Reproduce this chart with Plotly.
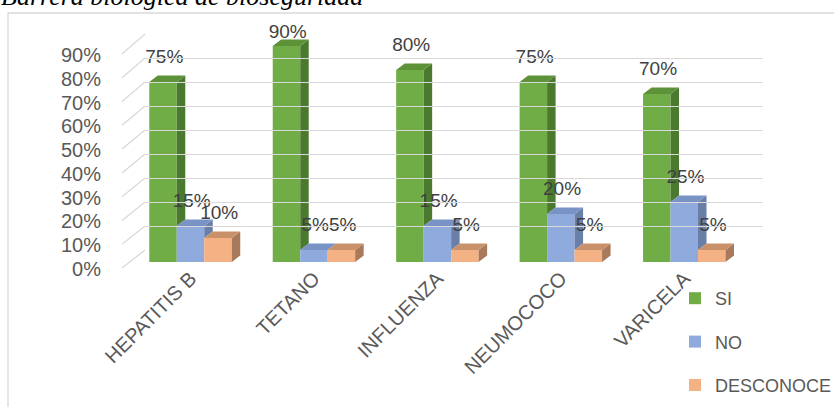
import plotly.graph_objects as go

# ---------------- data ----------------
categories = ["HEPATITIS B", "TETANO", "INFLUENZA", "NEUMOCOCO", "VARICELA"]
series_names = ["SI", "NO", "DESCONOCE"]
si = [0.75, 0.90, 0.80, 0.75, 0.70]
no = [0.15, 0.05, 0.15, 0.20, 0.25]
desconoce = [0.10, 0.05, 0.05, 0.05, 0.05]
y_ticks = [0.0, 0.1, 0.2, 0.3, 0.4, 0.5, 0.6, 0.7, 0.8, 0.9]
y_tick_labels = ["0%", "10%", "20%", "30%", "40%", "50%", "60%", "70%", "80%", "90%"]
title_text = "Barrera biológica de bioseguridad"

# ---------------- styling ----------------
W, H = 834, 407
FONT = "Liberation Sans"
front_colors = ["#70AD47", "#8FAADC", "#F4B183"]
side_colors = ["#4B7A2E", "#6A7FA8", "#A8795A"]
top_colors = ["#5E9239", "#7A93C6", "#C9916A"]
GRID = "#D9D9D9"


def fx(p):
    return p / W


def fy(p):
    return (H - p) / H


values = [si, no, desconoce]
n_cat = len(categories)
n_ser = len(values)
bargap = 0.332
bw = (1 - bargap) / n_ser
# depth of the pseudo-3D faces, in axis units
x_unit_px = (746 - 128.8) / n_cat
y_unit_px = 240.0
dx = 8.5 / x_unit_px
dy = 6.5 / y_unit_px

fig = go.Figure()

# front faces as real bars
xs = list(range(n_cat))
for j, name in enumerate(series_names):
    fig.add_trace(go.Bar(
        x=xs, y=values[j], name=name, legendgroup=name,
        marker=dict(color=front_colors[j], line=dict(width=0)),
        hoverinfo="skip",
    ))

# side and top faces derived from the data
for j in range(n_ser):
    sx, sy, tx, ty = [], [], [], []
    for i in range(n_cat):
        v = values[j][i]
        c = i + (j - (n_ser - 1) / 2) * bw
        left, right = c - bw / 2, c + bw / 2
        if j < n_ser - 1:
            base = values[j + 1][i]
        else:
            base = 0.0
        if base < v:
            sx += [right, right + dx, right + dx, right, right, None]
            sy += [base, base + dy, v + dy, v, base, None]
        tx += [left, right, right + dx, left + dx, left, None]
        ty += [v, v, v + dy, v + dy, v, None]
    fig.add_trace(go.Scatter(x=sx, y=sy, mode="lines", fill="toself",
                             fillcolor=side_colors[j], line=dict(width=0),
                             showlegend=False, hoverinfo="skip"))
    fig.add_trace(go.Scatter(x=tx, y=ty, mode="lines", fill="toself",
                             fillcolor=top_colors[j], line=dict(width=0),
                             showlegend=False, hoverinfo="skip"))

# data labels
for j in range(n_ser):
    lx = [i + (j - (n_ser - 1) / 2) * bw + 0.01 for i in range(n_cat)]
    ly = [min(v + 0.1, 0.952) for v in values[j]]
    fig.add_trace(go.Scatter(
        x=lx, y=ly, mode="text",
        text=["{:.0f}%".format(v * 100) for v in values[j]],
        textfont=dict(family=FONT, size=19, color="#404040"),
        textposition="middle center", cliponaxis=False,
        showlegend=False, hoverinfo="skip"))

# helper traces for back wall and label axis
fig.add_trace(go.Scatter(x=[0], y=[0], xaxis="x2", yaxis="y2", mode="markers",
                         marker=dict(opacity=0), showlegend=False, hoverinfo="skip"))
fig.add_trace(go.Scatter(x=[0], y=[0], xaxis="x2", yaxis="y3", mode="markers",
                         marker=dict(opacity=0), showlegend=False, hoverinfo="skip"))

# left wall diagonals
shapes = []
for v in y_ticks:
    shapes.append(dict(type="line", xref="paper", yref="paper",
                       x0=fx(122), y0=fy(268 - v * 237.8),
                       x1=fx(145), y1=fy(250 - v * 240),
                       line=dict(color=GRID, width=1.3), layer="below"))
# chart border
shapes.append(dict(type="rect", xref="paper", yref="paper",
                   x0=fx(8), x1=1.02, y0=-0.02, y1=fy(13),
                   line=dict(color=GRID, width=1.3), layer="below"))

fig.update_layout(
    width=W, height=H, autosize=False,
    margin=dict(l=0, r=0, t=0, b=0, pad=0, autoexpand=False),
    paper_bgcolor="white", plot_bgcolor="rgba(0,0,0,0)",
    barmode="group", bargap=bargap, bargroupgap=0,
    font=dict(family=FONT, color="#595959"),
    shapes=shapes,
    xaxis=dict(domain=[fx(128.8), fx(746)], range=[-0.5, n_cat - 0.5],
               tickvals=xs, ticktext=categories, tickangle=-45,
               tickfont=dict(size=20, color="#595959"),
               showgrid=False, zeroline=False, showline=False, ticks="",
               anchor="y", automargin=False),
    yaxis=dict(domain=[fy(262), fy(22)], range=[0, 1.0], showticklabels=False,
               showgrid=False, zeroline=False, showline=False, ticks="",
               anchor="x", automargin=False),
    xaxis2=dict(domain=[fx(145), fx(763)], range=[0, 1], visible=False,
                anchor="y2", automargin=False),
    yaxis2=dict(domain=[fy(250), fy(34)], range=[0, 0.9], tick0=0, dtick=0.1,
                showgrid=True, gridcolor=GRID, gridwidth=1.3,
                showticklabels=False, zeroline=False, showline=False,
                ticks="", anchor="x2", automargin=False),
    yaxis3=dict(domain=[fy(269), fy(55)], range=[0, 0.9],
                tickvals=y_ticks, ticktext=y_tick_labels,
                tickfont=dict(size=20, color="#595959"),
                showgrid=False, zeroline=False, showline=False, ticks="",
                anchor="free", position=fx(101), side="left",
                automargin=False),
    legend=dict(x=fx(675), y=fy(280), xanchor="left", yanchor="top",
                font=dict(size=18, color="#595959"),
                tracegroupgap=17, bgcolor="rgba(0,0,0,0)",
                itemwidth=30),
    annotations=[dict(text="<i>" + title_text + "</i>", xref="paper", yref="paper",
                      x=0, y=1, xanchor="left", yanchor="top",
                      xshift=-1, yshift=20, showarrow=False,
                      font=dict(family="Liberation Serif", size=26,
                                color="#000000"),
                      )],
)

fig.write_html("out.html")
